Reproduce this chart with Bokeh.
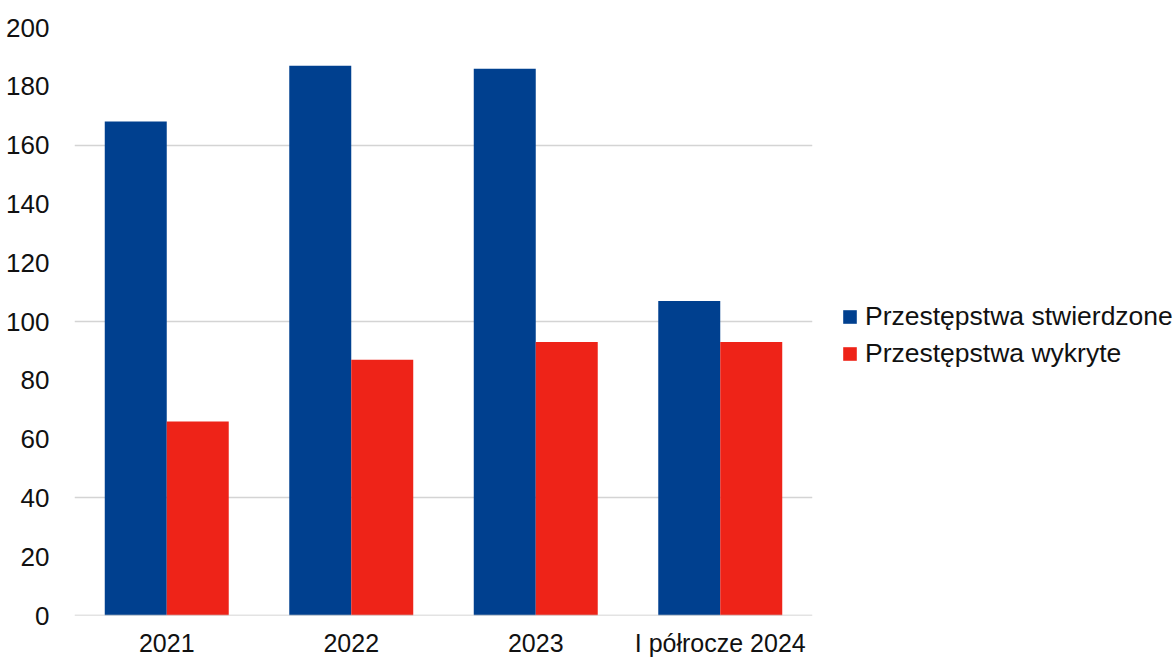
from bokeh.plotting import figure
from bokeh.models import ColumnDataSource, FactorRange, FixedTicker, Legend, LegendItem, Span
from bokeh.transform import dodge
from bokeh.embed import file_html
from bokeh.resources import INLINE

categories = ["2021", "2022", "2023", "I półrocze 2024"]
stwierdzone = [168, 187, 186, 107]
wykryte = [66, 87, 93, 93]
series_names = ["Przestępstwa stwierdzone", "Przestępstwa wykryte"]
y_ticks = [0, 20, 40, 60, 80, 100, 120, 140, 160, 180, 200]
grid_ticks = [40, 100, 160]

BLUE = "#00408f"
RED = "#ee2318"
FONT = "Liberation Sans"

src = ColumnDataSource(dict(cat=categories, s=stwierdzone, w=wykryte))

p = figure(x_range=FactorRange(*categories), y_range=(0, 200),
           frame_width=738, frame_height=588, width=1160, height=653,
           output_backend="svg", toolbar_location=None,
           min_border_left=74, min_border_top=27, min_border_bottom=38,
           min_border_right=0)
p.outline_line_color = None

r1 = p.vbar(x=dodge("cat", -0.168, range=p.x_range), top="s", width=0.336,
            source=src, fill_color=BLUE, line_color=None)
r2 = p.vbar(x=dodge("cat", 0.168, range=p.x_range), top="w", width=0.336,
            source=src, fill_color=RED, line_color=None)

p.xgrid.grid_line_color = None
p.ygrid.ticker = FixedTicker(ticks=grid_ticks)
p.ygrid.grid_line_color = "#d4d4d4"
p.ygrid.grid_line_width = 1.5
p.ygrid.level = "underlay"
p.add_layout(Span(location=0, dimension="width", line_color="#c8c8c8", line_width=1.5))

p.yaxis.ticker = FixedTicker(ticks=y_ticks)
for ax in (p.xaxis, p.yaxis):
    ax.axis_line_color = None
    ax.major_tick_line_color = None
    ax.minor_tick_line_color = None
    ax.major_label_text_font = FONT
    ax.major_label_text_font_size = "26px"
    ax.major_label_text_color = "#111111"
p.xaxis.major_label_text_font_size = "25px"
p.yaxis.major_label_standoff = 19
p.xaxis.major_label_standoff = 7

legend = Legend(items=[LegendItem(label=series_names[0], renderers=[r1]),
                       LegendItem(label=series_names[1], renderers=[r2])],
                location=(29, 246), border_line_color=None, background_fill_alpha=0,
                label_text_font=FONT, label_text_font_size="26.5px",
                label_text_color="#111111", glyph_width=17, glyph_height=17,
                label_standoff=7, spacing=6, padding=0, margin=0)
p.add_layout(legend, "right")

open("out.html", "w").write(file_html(p, INLINE))
